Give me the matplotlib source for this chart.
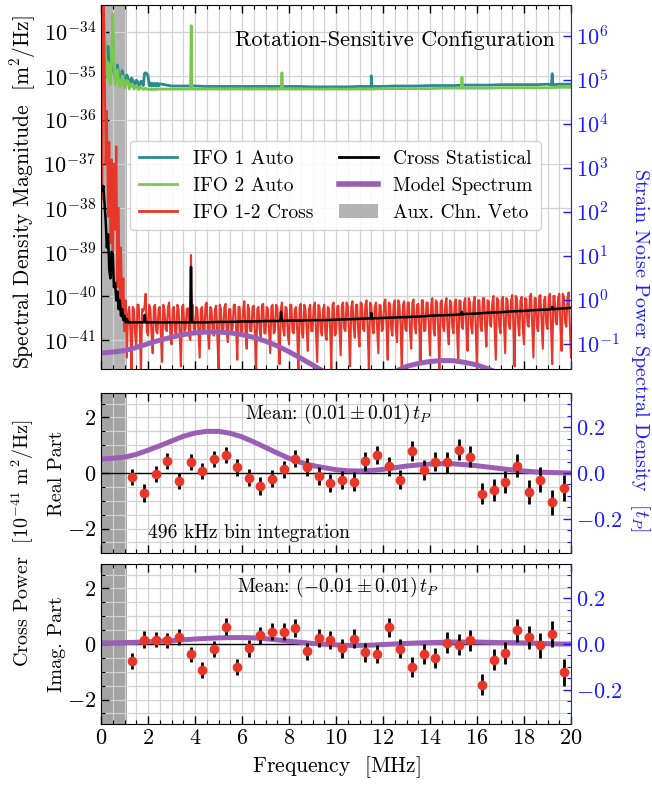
import numpy as np
import matplotlib
matplotlib.use('Agg')
import matplotlib.pyplot as plt
from matplotlib.ticker import MultipleLocator, FixedLocator, NullLocator
from matplotlib.patches import Patch
from matplotlib.lines import Line2D

plt.rcParams.update({
    'font.family': ['cmr10', 'DejaVu Serif'],
    'mathtext.fontset': 'cm',
    'axes.formatter.use_mathtext': True,
    'font.size': 14,
    'xtick.labelsize': 16,
    'ytick.labelsize': 16,
})

# ---------------- data ----------------
# Auto spectra (log10 m^2/Hz), low-frequency grid 0..2.5 MHz step 0.05
f_auto_low = np.round(np.arange(0, 2.501, 0.05), 3)
ifo1_low = [-33.0, -33.2, -33.6, -34.1, -34.5, -34.6, -34.33, -34.75, -34.95, -34.8,
            -34.58, -34.9, -35.05, -34.95, -34.75, -34.98, -35.12, -35.05, -34.88, -35.0,
            -35.15, -35.12, -34.98, -35.05, -35.18, -35.15, -35.05, -35.1, -35.2, -35.18,
            -35.1, -35.12, -35.22, -35.2, -35.12, -35.15, -35.22, -34.95, -34.93, -34.95,
            -35.0, -35.22, -35.16, -35.23, -35.17, -35.23, -35.17, -35.23, -35.17, -35.23,
            -35.18]
ifo2_low = [-33.0, -33.1, -33.5, -34.0, -34.6, -35.0, -34.7, -35.1, -35.2, -34.6,
            -33.6, -34.6, -35.2, -35.1, -34.86, -35.1, -35.25, -35.15, -35.0, -35.05,
            -35.28, -35.2, -35.1, -35.12, -35.3, -35.25, -35.18, -35.2, -35.3, -35.27,
            -35.22, -35.25, -35.31, -35.29, -35.26, -35.28, -35.31, -35.3, -35.28, -35.3,
            -35.31, -35.3, -35.31, -35.3, -35.31, -35.3, -35.31, -35.3, -35.31, -35.3,
            -35.3]
# high-frequency grid 3..20 MHz step 0.5
f_auto_high = np.arange(3.0, 20.001, 0.5)
ifo1_high = [-35.23, -35.23, -35.23, -35.24, -35.24, -35.24, -35.24, -35.24, -35.24, -35.24,
             -35.24, -35.24, -35.25, -35.25, -35.25, -35.25, -35.24, -35.24, -35.24, -35.23,
             -35.23, -35.23, -35.22, -35.22, -35.22, -35.21, -35.21, -35.21, -35.2, -35.2,
             -35.2, -35.2, -35.19, -35.19, -35.19]
ifo2_high = [-35.3, -35.3, -35.3, -35.3, -35.3, -35.3, -35.3, -35.3, -35.3, -35.3,
             -35.3, -35.3, -35.3, -35.3, -35.3, -35.3, -35.3, -35.3, -35.29, -35.29,
             -35.29, -35.29, -35.29, -35.28, -35.28, -35.28, -35.28, -35.28, -35.27, -35.27,
             -35.27, -35.27, -35.27, -35.26, -35.26]
ifo1_spk_f = [11.5, 19.2]
ifo1_spk_peak = [-35.0, -34.95]
ifo1_spk_base = [-35.24, -35.2]
ifo2_spk_f = [3.84, 7.7, 15.36]
ifo2_spk_peak = [-33.86, -34.93, -35.03]
ifo2_spk_base = [-35.3, -35.3, -35.28]

# Cross spectrum magnitude (log10 m^2/Hz)
f_cross_low = np.round(np.arange(0.05, 1.151, 0.05), 3)
cross_low = [-37.8, -33.3, -34.5, -37.0, -35.8, -38.2, -36.5, -38.8, -36.9, -39.5,
             -37.0, -38.5, -36.6, -39.8, -38.0, -40.3, -38.9, -40.5, -39.6, -40.8,
             -40.1, -41.4, -40.4]
f_cross = np.round(np.arange(1.2, 20.001, 0.1), 3)
cross_vals = [
    -40.25, -41.70, -40.30, -41.20, -40.20, -41.75, -40.35, -39.95, -40.90, -40.30,
    -41.30, -40.20, -40.85, -40.25, -41.50, -40.30, -40.80, -40.15, -41.10, -40.25,
    -40.95, -40.30, -41.60, -40.20, -40.75, -40.28, -41.00, -40.20, -40.85, -40.30,
    -41.40, -40.25, -40.80, -40.15, -41.20, -40.30, -40.90, -40.22, -41.65, -40.28,
    -40.85, -40.18, -41.05, -40.30, -40.75, -40.20, -41.45, -40.25, -40.90, -40.12,
    -41.20, -40.30, -40.80, -40.22, -41.70, -40.25, -40.95, -40.18, -40.85, -40.30,
    -41.30, -40.20, -40.80, -40.25, -41.55, -40.15, -40.90, -40.28, -41.10, -40.20,
    -40.85, -40.25, -41.75, -40.18, -40.95, -40.30, -41.25, -40.20, -40.80, -40.15,
    -41.50, -40.25, -40.90, -40.20, -41.00, -40.28, -41.65, -40.15, -40.85, -40.22,
    -41.35, -40.15, -40.80, -40.22, -41.60, -40.12, -40.95, -40.20, -41.15, -40.18,
    -40.80, -40.10, -41.70, -40.20, -40.85, -40.15, -41.30, -40.22, -40.75, -40.08,
    -41.45, -40.18, -40.90, -40.10, -41.05, -40.20, -41.75, -40.12, -40.80, -40.15,
    -41.20, -40.08, -40.85, -40.18, -41.55, -40.10, -40.78, -40.15, -41.35, -40.05,
    -40.90, -40.15, -41.65, -40.10, -40.80, -40.05, -41.10, -40.15, -40.85, -40.08,
    -41.50, -40.12, -40.75, -40.05, -41.25, -40.15, -40.85, -40.02, -41.70, -40.10,
    -40.80, -40.05, -41.15, -40.12, -40.70, -40.00, -41.45, -40.08, -40.85, -40.02,
    -41.30, -40.10, -40.75, -39.98, -41.60, -40.05, -40.90, -40.02, -41.10, -40.08,
    -40.70, -39.95, -41.40, -40.05, -40.80, -39.98, -41.20, -40.02, -40.75, -39.95,
    -41.55, -40.00, -40.65, -39.95, -41.25, -40.02, -40.70, -39.92, -41.40]
# in-between samples (1.25 .. 19.95 MHz)
f_cross_mid = np.round(np.arange(1.25, 19.96, 0.1), 3)
cross_mid = [
    -40.80, -40.25, -40.85, -40.20, -40.75, -40.30, -40.25, -40.80, -40.20, -40.85,
    -40.25, -40.80, -40.30, -40.90, -40.20, -40.75, -40.25, -40.85, -40.30, -40.80,
    -40.20, -40.85, -40.25, -40.80, -40.30, -40.90, -40.20, -40.75, -40.25, -40.85,
    -40.30, -40.80, -40.20, -40.85, -40.25, -40.75, -40.30, -40.90, -40.20, -40.80,
    -40.25, -40.85, -40.30, -40.80, -40.20, -40.75, -40.25, -40.85, -40.30, -40.80,
    -40.20, -40.80, -40.25, -40.90, -40.30, -40.75, -40.20, -40.85, -40.25, -40.80,
    -40.25, -40.85, -40.20, -40.80, -40.30, -40.75, -40.25, -40.90, -40.20, -40.80,
    -40.30, -40.80, -40.25, -40.85, -40.20, -40.75, -40.30, -40.80, -40.25, -40.85,
    -40.20, -40.80, -40.30, -40.85, -40.25, -40.75, -40.20, -40.90, -40.25, -40.80,
    -40.20, -40.75, -40.15, -40.80, -40.25, -40.70, -40.20, -40.85, -40.15, -40.75,
    -40.20, -40.80, -40.15, -40.70, -40.25, -40.75, -40.20, -40.80, -40.15, -40.70,
    -40.15, -40.75, -40.20, -40.80, -40.10, -40.70, -40.20, -40.75, -40.15, -40.80,
    -40.15, -40.70, -40.20, -40.75, -40.10, -40.80, -40.15, -40.70, -40.20, -40.75,
    -40.10, -40.75, -40.15, -40.70, -40.20, -40.80, -40.10, -40.70, -40.15, -40.75,
    -40.10, -40.70, -40.15, -40.75, -40.05, -40.70, -40.15, -40.80, -40.10, -40.70,
    -40.05, -40.70, -40.10, -40.65, -40.15, -40.75, -40.05, -40.70, -40.10, -40.65,
    -40.05, -40.65, -40.10, -40.70, -40.00, -40.65, -40.10, -40.75, -40.05, -40.65,
    -40.00, -40.65, -40.05, -40.70, -40.00, -40.60, -40.10, -40.65, -40.05, -40.70,
    -40.00, -40.60, -40.05, -40.65, -39.95, -40.60, -40.05, -40.65]
cross_spk_f = [3.83]
cross_spk_peak = [-39.07]
cross_spk_base = [-40.45]

# Cross statistical level (log10 m^2/Hz)
f_stat_low = np.round(np.arange(0.05, 1.151, 0.05), 3)
stat_low = [-37.6, -37.5, -37.9, -38.3, -38.9, -38.6, -39.4, -39.6, -39.0, -39.05,
            -39.8, -39.7, -40.1, -39.9, -40.3, -40.1, -40.45, -40.3, -40.55, -40.45,
            -40.6, -40.52, -40.6]
f_stat = np.arange(1.5, 20.001, 0.5)
stat_vals = [-40.60, -40.60, -40.60, -40.60, -40.60, -40.60, -40.60, -40.59, -40.59, -40.58,
             -40.58, -40.57, -40.57, -40.56, -40.56, -40.55, -40.55, -40.54, -40.53, -40.52,
             -40.51, -40.50, -40.49, -40.48, -40.47, -40.45, -40.44, -40.43, -40.41, -40.40,
             -40.38, -40.37, -40.35, -40.34, -40.32, -40.31, -40.29, -40.27]
stat_spk_f = [1.86, 3.83, 7.66, 11.5, 15.35, 19.2]
stat_spk_peak = [-40.43, -39.34, -40.36, -40.39, -40.36, -40.25]
stat_spk_base = [-40.60, -40.60, -40.57, -40.51, -40.42, -40.30]

# Model spectrum (10^-41 m^2/Hz), grid 0..20 step 0.5
f_model = np.arange(0, 20.001, 0.5)
model_re = [0.50, 0.53, 0.57, 0.67, 0.82, 0.98, 1.15, 1.32, 1.44, 1.50,
            1.50, 1.43, 1.30, 1.12, 0.92, 0.72, 0.53, 0.38, 0.27, 0.19,
            0.12, 0.08, 0.07, 0.09, 0.13, 0.19, 0.25, 0.29, 0.32, 0.335,
            0.33, 0.30, 0.26, 0.21, 0.16, 0.11, 0.07, 0.04, 0.02, 0.01, 0.0]
model_im = [0.04, 0.04, 0.05, 0.06, 0.08, 0.10, 0.12, 0.15, 0.18, 0.20,
            0.22, 0.23, 0.23, 0.22, 0.19, 0.15, 0.10, 0.06, 0.02, -0.01,
            -0.03, -0.05, -0.05, -0.04, -0.02, 0.0, 0.02, 0.04, 0.05, 0.06,
            0.07, 0.07, 0.07, 0.06, 0.05, 0.05, 0.04, 0.03, 0.01, 0.0, 0.0]

# Binned cross power (10^-41 m^2/Hz), 496 kHz bins
bin_first, bin_width, n_bins = 1.33, 0.496, 38
real_vals = [-0.14, -0.72, -0.04, 0.43, -0.29, 0.40, 0.06, 0.50, 0.65, 0.20,
             -0.17, -0.47, -0.20, 0.14, 0.52, 0.22, -0.12, -0.35, -0.24, -0.31,
             0.43, 0.66, 0.24, -0.24, 0.78, 0.12, 0.41, 0.38, 0.84, 0.59,
             -0.74, -0.60, -0.32, 0.26, -0.68, -0.24, -1.06, -0.54]
imag_vals = [-0.60, 0.16, 0.16, 0.13, 0.26, -0.37, -0.92, -0.18, 0.62, -0.83,
             -0.16, 0.32, 0.45, 0.45, 0.59, -0.26, 0.22, 0.14, -0.16, 0.19,
             -0.29, -0.36, 0.60, -0.17, -0.81, -0.36, -0.50, 0.05, -0.02, 0.14,
             -1.47, -0.56, -0.31, 0.49, 0.24, -0.05, 0.37, -1.02]
err_vals = [0.29, 0.31, 0.28, 0.28, 0.29, 0.28, 0.29, 0.29, 0.30, 0.29,
            0.30, 0.31, 0.30, 0.31, 0.32, 0.31, 0.32, 0.33, 0.33, 0.34,
            0.34, 0.33, 0.34, 0.35, 0.36, 0.36, 0.35, 0.37, 0.37, 0.38,
            0.38, 0.39, 0.40, 0.41, 0.42, 0.44, 0.46, 0.48]

veto_end = 1.1
tp_per_unit = 0.1212        # t_P per 10^-41 m^2/Hz
left_decades = [-41, -40, -39, -38, -37, -36, -35, -34]
right_decades = [-1, 0, 1, 2, 3, 4, 5, 6]
mean_real = r"Mean: $(0.01 \pm 0.01)\,t_P$"
mean_imag = r"Mean: $(-0.01 \pm 0.01)\,t_P$"

# ---------------- style ----------------
C_IFO1 = '#2a8a8f'
C_IFO2 = '#7ac74f'
C_RED = '#e8372a'
C_PURP = '#9a5fb4'
C_GRID = '#d2d2d2'
BLUE = '#1a1aff'


def with_spikes(f, v, sf, sp, sb, w=0.03):
    f = list(f)
    v = list(v)
    for a, p, b in zip(sf, sp, sb):
        f += [a - w, a, a + w]
        v += [b, p, b]
    order = np.argsort(f, kind='stable')
    return np.array(f)[order], np.array(v)[order]


fig = plt.figure(figsize=(6.52, 7.87), dpi=100)
L, W = 101 / 652, 470 / 652
ax_top = fig.add_axes([L, 1 - 369 / 787, W, 364 / 787])
ax_re = fig.add_axes([L, 1 - 553 / 787, W, 160 / 787])
ax_im = fig.add_axes([L, 1 - 724 / 787, W, 160 / 787])

ylo, yhi = 10 ** -41.66, 10 ** -33.39

# ---- top panel ----
ax = ax_top
ax.set_axisbelow(True)
ax.axvspan(0, veto_end, color='#b3b3b3', lw=0, zorder=0.3)
f1 = np.concatenate([f_auto_low, f_auto_high])
v1 = np.concatenate([ifo1_low, ifo1_high])
f1, v1 = with_spikes(f1, v1, ifo1_spk_f, ifo1_spk_peak, ifo1_spk_base)
ax.plot(f1, 10 ** v1, color=C_IFO1, lw=2.0, zorder=2)
f2 = np.concatenate([f_auto_low, f_auto_high])
v2 = np.concatenate([ifo2_low, ifo2_high])
f2, v2 = with_spikes(f2, v2, ifo2_spk_f, ifo2_spk_peak, ifo2_spk_base)
ax.plot(f2, 10 ** v2, color=C_IFO2, lw=2.0, zorder=2.1)
fc = np.concatenate([f_cross_low, f_cross, f_cross_mid])
vc = np.concatenate([cross_low, cross_vals, cross_mid])
fc, vc = with_spikes(fc, vc, cross_spk_f, cross_spk_peak, cross_spk_base)
ax.plot(fc, 10 ** vc, color=C_RED, lw=1.5, zorder=2.2)
fs = np.concatenate([f_stat_low, f_stat])
vs = np.concatenate([stat_low, stat_vals])
fs, vs = with_spikes(fs, vs, stat_spk_f, stat_spk_peak, stat_spk_base)
ax.plot(fs, 10 ** vs, color='black', lw=1.8, zorder=2.3)
mag = np.abs(np.array(model_re) + 1j * np.array(model_im)) * 1e-41
ax.plot(f_model, mag, color=C_PURP, lw=3.6, zorder=2.4, solid_capstyle='butt')

ax.set_yscale('log')
ax.set_ylim(ylo, yhi)
ax.set_xlim(0, 20)
ax.yaxis.set_major_locator(FixedLocator([10.0 ** d for d in left_decades]))
ax.yaxis.set_minor_locator(NullLocator())
ax.xaxis.set_major_locator(MultipleLocator(2))
ax.xaxis.set_minor_locator(MultipleLocator(0.5))
ax.grid(True, which='major', color=C_GRID, lw=0.9)
ax.grid(True, which='minor', axis='x', color=C_GRID, lw=0.9)
ax.tick_params(which='both', direction='in', top=True, right=False, labelbottom=False)
ax.tick_params(which='major', length=6, width=1)
ax.tick_params(which='minor', length=3, width=0.8)
ax.spines['right'].set_visible(False)
ax.text(0.966, 0.904, 'Rotation-Sensitive Configuration', transform=ax.transAxes,
        ha='right', va='center', fontsize=16)

handles = [Line2D([], [], color=C_IFO1, lw=2), Line2D([], [], color=C_IFO2, lw=2),
           Line2D([], [], color=C_RED, lw=2),
           Line2D([], [], color='black', lw=2), Line2D([], [], color=C_PURP, lw=4),
           Patch(facecolor='#b3b3b3', edgecolor='none')]
labels = ['IFO 1 Auto', 'IFO 2 Auto', 'IFO 1-2 Cross',
          'Cross Statistical', 'Model Spectrum', 'Aux. Chn. Veto']
leg = ax.legend(handles, labels, ncol=2, loc='center', bbox_to_anchor=(0.499, 0.503),
                fontsize=14, frameon=True, fancybox=True, framealpha=0.85,
                edgecolor='#cccccc', handlelength=2.0, columnspacing=1.3,
                labelspacing=0.45, borderpad=0.45)
leg.set_zorder(5)

axr = ax.twinx()
axr.set_yscale('log')
axr.set_ylim(ylo * 1.212e40, yhi * 1.212e40)
axr.yaxis.set_major_locator(FixedLocator([10.0 ** d for d in right_decades]))
axr.yaxis.set_minor_locator(NullLocator())
axr.tick_params(which='both', direction='in', colors=BLUE, length=6, width=1)
for s in ['left', 'top', 'bottom']:
    axr.spines[s].set_visible(False)
axr.spines['right'].set_color(BLUE)


# ---- lower panels ----
def lower_panel(a, vals, model_vals, text, text_y):
    a.set_axisbelow(True)
    a.axvspan(0, veto_end, color='#a3a3a3', lw=0, zorder=0.3)
    a.axhline(0, color='black', lw=1.0, zorder=1)
    a.plot(f_model, model_vals, color=C_PURP, lw=3.6, zorder=2)
    xs = bin_first + bin_width * np.arange(n_bins)
    a.errorbar(xs, vals, yerr=err_vals, fmt='o', ms=6, mfc=C_RED, mec=C_RED,
               ecolor='black', elinewidth=2.0, capsize=0, zorder=3)
    a.set_xlim(0, 20)
    a.set_ylim(-2.88, 2.88)
    a.xaxis.set_major_locator(MultipleLocator(2))
    a.xaxis.set_minor_locator(MultipleLocator(0.5))
    a.yaxis.set_major_locator(MultipleLocator(2))
    a.yaxis.set_minor_locator(MultipleLocator(0.5))
    a.grid(True, which='both', color=C_GRID, lw=0.9)
    a.tick_params(which='both', direction='in', top=True, right=False)
    a.tick_params(which='major', length=6, width=1)
    a.tick_params(which='minor', length=3, width=0.8)
    a.spines['right'].set_visible(False)
    a.text(0.505, text_y, text, transform=a.transAxes, ha='center', va='center', fontsize=14)
    t = a.twinx()
    t.set_ylim(-2.88 * tp_per_unit, 2.88 * tp_per_unit)
    t.yaxis.set_major_locator(MultipleLocator(0.2))
    t.yaxis.set_minor_locator(MultipleLocator(0.05))
    t.tick_params(which='both', direction='in', colors=BLUE)
    t.tick_params(which='major', length=6, width=1)
    t.tick_params(which='minor', length=3, width=0.8)
    for s in ['left', 'top', 'bottom']:
        t.spines[s].set_visible(False)
    t.spines['right'].set_color(BLUE)


lower_panel(ax_re, real_vals, model_re, mean_real, 0.87)
ax_re.tick_params(labelbottom=False)
ax_re.text(0.315, 0.125, '496 kHz bin integration', transform=ax_re.transAxes,
           ha='center', va='center', fontsize=14)
lower_panel(ax_im, imag_vals, model_im, mean_imag, 0.856)
ax_im.set_xlabel(r'Frequency  $[\mathrm{MHz}]$', fontsize=15.5, labelpad=4)

# ---- labels ----
fig.text(23 / 652, 1 - 192 / 787, r'Spectral Density Magnitude  $[\mathrm{m}^2/\mathrm{Hz}]$',
         rotation=90, ha='center', va='center', fontsize=15.5, rotation_mode='anchor')
fig.text(23 / 652, 1 - 543 / 787, r'Cross Power  $[10^{-41}\ \mathrm{m}^2/\mathrm{Hz}]$',
         rotation=90, ha='center', va='center', fontsize=14.5, rotation_mode='anchor')
fig.text(57 / 652, 1 - 473 / 787, 'Real Part', rotation=90, ha='center', va='center',
         fontsize=14.5, rotation_mode='anchor')
fig.text(57 / 652, 1 - 644 / 787, 'Imag. Part', rotation=90, ha='center', va='center',
         fontsize=14.5, rotation_mode='anchor')
fig.text(640 / 652, 1 - 168 / 787, r'Strain Noise Power Spectral Density  $[t_P]$',
         rotation=270, ha='left', va='center', fontsize=14.5, color=BLUE,
         rotation_mode='anchor')

fig.savefig('out.png', dpi=100)
